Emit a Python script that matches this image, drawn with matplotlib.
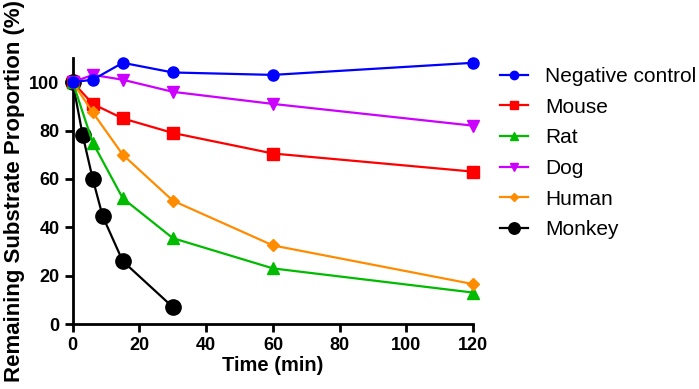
import matplotlib
matplotlib.use("Agg")
import matplotlib.pyplot as plt

plt.rcParams['font.family'] = ['Liberation Sans', 'DejaVu Sans']

time_main = [0, 6, 15, 30, 60, 120]
time_monkey = [0, 3, 6, 9, 15, 30]

neg_control = [100, 101, 108, 104, 103, 108]
mouse = [100, 91, 85, 79, 70.5, 63]
rat = [100, 75, 52, 35.5, 23, 13]
dog = [100, 103, 101, 96, 91, 82]
human = [100, 87.5, 70, 51, 32.5, 16.5]
monkey = [100, 78, 60, 44.5, 26, 7]

fig = plt.figure(figsize=(6.99, 3.89), dpi=100)
ax = fig.add_axes([0.104, 0.167, 0.573, 0.684])

lw = 1.6
ax.plot(time_main, neg_control, color='#0000ff', marker='o', ms=8, lw=lw, label='Negative control', clip_on=False, zorder=5)
ax.plot(time_main, mouse, color='#ff0000', marker='s', ms=8, lw=lw, label='Mouse', clip_on=False, zorder=4)
ax.plot(time_main, rat, color='#00bb00', marker='^', ms=8, lw=lw, label='Rat', clip_on=False, zorder=4)
ax.plot(time_main, dog, color='#cc00ff', marker='v', ms=8, lw=lw, label='Dog', clip_on=False, zorder=4)
ax.plot(time_main, human, color='#ff8c00', marker='D', ms=6, lw=lw, label='Human', clip_on=False, zorder=4)
ax.plot(time_monkey, monkey, color='#000000', marker='o', ms=11, lw=lw, label='Monkey', clip_on=False, zorder=3)

ax.set_xlim(0, 120)
ax.set_ylim(0, 110)
ax.set_xticks(range(0, 121, 20))
ax.set_yticks(range(0, 101, 20))
for s in ['top', 'right']:
    ax.spines[s].set_visible(False)
for s in ['left', 'bottom']:
    ax.spines[s].set_linewidth(2)
ax.spines['bottom'].set_bounds(0, 120)
ax.tick_params(width=2, length=6, labelsize=13, color='black')
for lab in ax.get_xticklabels() + ax.get_yticklabels():
    lab.set_fontweight('bold')
ax.set_xlabel('Time (min)', fontsize=14.5, fontweight='bold', labelpad=1)
ax.set_ylabel('Remaining Substrate Proportion (%)', fontsize=16, fontweight='bold', labelpad=3)

handles, labels = ax.get_legend_handles_labels()
fig.legend(handles, labels, loc='upper left', bbox_to_anchor=(500 / 699, 1 - 67 / 389),
           frameon=False, fontsize=15, borderpad=0, borderaxespad=0,
           handlelength=1.35, labelspacing=0.56, handletextpad=0.8, markerscale=0.75)

fig.savefig('out.png', dpi=100)
